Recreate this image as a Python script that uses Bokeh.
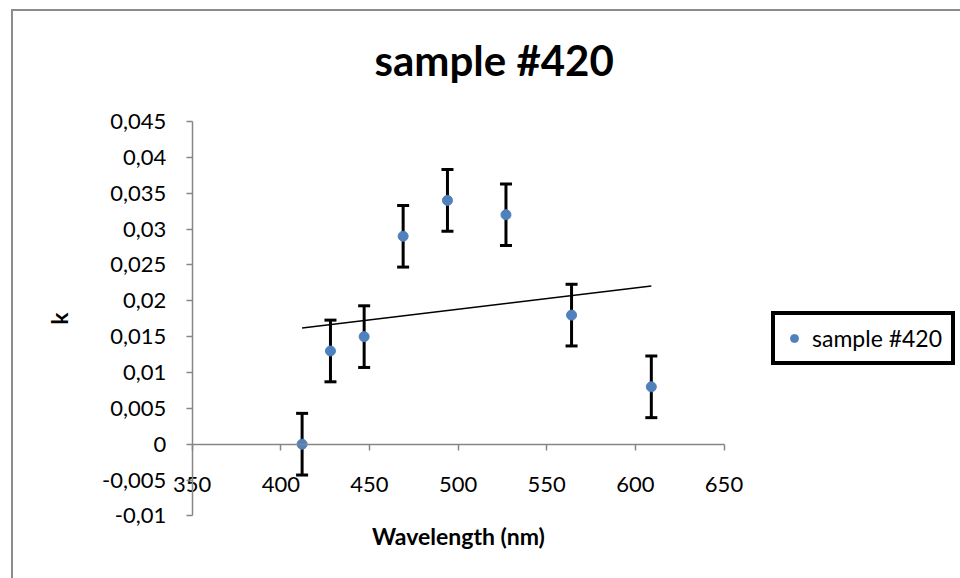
import numpy as np
from bokeh.plotting import figure
from bokeh.models import (Range1d, FixedTicker, Whisker, TeeHead, ColumnDataSource,
                          Legend, LegendItem)
from bokeh.embed import file_html
from bokeh.resources import INLINE

# ---- data ----
wavelength = [412, 428, 447, 469, 494, 527, 564, 609]
k_values = [0.0, 0.013, 0.015, 0.029, 0.034, 0.032, 0.018, 0.008]
k_errors = [0.0043, 0.0043, 0.0043, 0.0043, 0.0043, 0.0043, 0.0043, 0.0043]

x_ticks = [350, 400, 450, 500, 550, 600, 650]
x_tick_labels = ["350", "400", "450", "500", "550", "600", "650"]
y_ticks = [-0.01, -0.005, 0.0, 0.005, 0.01, 0.015, 0.02, 0.025, 0.03, 0.035, 0.04, 0.045]
y_tick_labels = ["-0,01", "-0,005", "0", "0,005", "0,01", "0,015", "0,02", "0,025",
                 "0,03", "0,035", "0,04", "0,045"]
x_axis_bounds = (350, 650)
y_axis_bounds = (-0.01, 0.045)

series_name = "sample #420"
title_text = "sample #420"
x_label = "Wavelength (nm)"
y_label = "k"

FONT = "Lato"
AXIS_GREY = "#868686"
BLUE = "#4F81BD"

# layout: the plotting frame spans most of the canvas so that the axes,
# which cross inside it, can carry their labels and titles without being clipped
W, H = 960, 578
FL, FR, FT, FB = 40, 960, 100, 562            # frame edges in canvas pixels
AX_L, AX_R, AX_T, AX_B = 191.7, 723.5, 121.0, 515.4   # pixel span of the axes
sx = (AX_R - AX_L) / (x_axis_bounds[1] - x_axis_bounds[0])
sy = (AX_B - AX_T) / (y_axis_bounds[1] - y_axis_bounds[0])
x_start = x_axis_bounds[0] - (AX_L - FL) / sx
x_end = x_axis_bounds[1] + (FR - AX_R) / sx
y_start = y_axis_bounds[0] - (FB - AX_B) / sy
y_end = y_axis_bounds[1] + (AX_T - FT) / sy

p = figure(width=W, height=H, output_backend="svg", toolbar_location=None,
           x_range=Range1d(x_start, x_end), y_range=Range1d(y_start, y_end),
           min_border_left=FL, min_border_right=W - FR, min_border_top=FT,
           min_border_bottom=H - FB)
p.background_fill_color = "white"
p.background_fill_alpha = 0
p.border_fill_color = "white"
p.border_fill_alpha = 0
p.outline_line_color = None
p.xgrid.visible = False
p.ygrid.visible = False
# grey chart-area border at the left and top, drawn behind the transparent canvas
p.styles = {
    "background": "linear-gradient(#8C8C8C,#8C8C8C) 11px 9px / 2px 3000px no-repeat, "
                  "linear-gradient(#8C8C8C,#8C8C8C) 11px 9px / 3000px 2px no-repeat, white"
}

# title
p.title.text = title_text
p.title.text_font = FONT
p.title.text_font_size = "42px"
p.title.text_font_style = "bold"
p.title.text_color = "black"
p.title.align = "left"
p.title.offset = 334
p.title.standoff = 31

# x axis crossing at y = 0, y axis crossing at x = 350
xa = p.xaxis[0]
xa.fixed_location = 0
xa.bounds = x_axis_bounds
xa.ticker = FixedTicker(ticks=x_ticks)
xa.major_label_overrides = {float(t): l for t, l in zip(x_ticks, x_tick_labels)}
xa.axis_label = x_label

ya = p.yaxis[0]
ya.fixed_location = x_axis_bounds[0]
ya.bounds = y_axis_bounds
ya.ticker = FixedTicker(ticks=y_ticks)
ya.major_label_overrides = {t: l for t, l in zip(y_ticks, y_tick_labels)}
ya.axis_label = y_label

for ax in (xa, ya):
    ax.axis_line_color = AXIS_GREY
    ax.axis_line_width = 1.5
    ax.major_tick_line_color = AXIS_GREY
    ax.major_tick_line_width = 1.5
    ax.major_tick_in = 0
    ax.major_tick_out = 6
    ax.minor_tick_line_color = None
    ax.major_label_text_font = FONT
    ax.major_label_text_font_size = "22px"
    ax.major_label_text_color = "black"
    ax.axis_label_text_font = FONT
    ax.axis_label_text_font_size = "23px"
    ax.axis_label_text_font_style = "bold"
    ax.axis_label_text_color = "black"

xa.major_label_standoff = 27
xa.axis_label_standoff = 26
ya.major_label_standoff = 20
ya.axis_label_standoff = 26

# error bars
lower = [k - e for k, e in zip(k_values, k_errors)]
upper = [k + e for k, e in zip(k_values, k_errors)]
src = ColumnDataSource(data=dict(x=wavelength, k=k_values, lower=lower, upper=upper))
whisk = Whisker(base="x", lower="lower", upper="upper", source=src,
                line_color="black", line_width=3,
                upper_head=TeeHead(size=12, line_color="black", line_width=3),
                lower_head=TeeHead(size=12, line_color="black", line_width=3))
p.add_layout(whisk)

# linear trendline (least squares fit of the series)
slope, intercept = np.polyfit(wavelength, k_values, 1)
x_fit = [min(wavelength), max(wavelength)]
y_fit = [slope * xv + intercept for xv in x_fit]
p.line(x_fit, y_fit, line_color="black", line_width=1.5)

pts = p.scatter("x", "k", source=src, size=10, fill_color=BLUE, line_color=BLUE)

legend = Legend(items=[LegendItem(label=series_name, renderers=[pts])],
                location=(771 - FL, FB - 365))
legend.border_line_color = "black"
legend.border_line_alpha = 1
legend.border_line_width = 4
legend.background_fill_color = "white"
legend.background_fill_alpha = 1
legend.label_text_font = FONT
legend.label_text_font_size = "23px"
legend.label_text_color = "black"
legend.glyph_width = 20
legend.glyph_height = 20
legend.label_standoff = 8
legend.padding = 9
legend.spacing = 0
legend.margin = 0
p.add_layout(legend, "center")

open("out.html", "w").write(file_html(p, INLINE))
